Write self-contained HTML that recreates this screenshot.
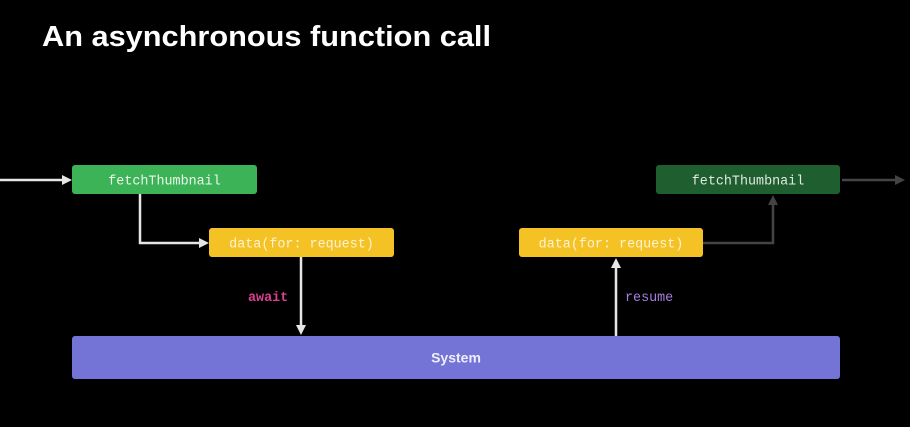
<!DOCTYPE html>
<html><head><meta charset="utf-8"><style>
html,body{margin:0;padding:0;background:#000;width:910px;height:427px;overflow:hidden}
svg{display:block}
.m{font-family:"Liberation Mono",monospace;font-size:13.4px}
</style></head><body>
<svg width="910" height="427" viewBox="0 0 910 427" xmlns="http://www.w3.org/2000/svg">
<rect width="910" height="427" fill="#000"/>
<text x="42" y="46" font-family="Liberation Sans, sans-serif" font-weight="bold" font-size="28.5" fill="#fff" textLength="449" lengthAdjust="spacingAndGlyphs">An asynchronous function call</text>

<!-- left incoming arrow -->
<line x1="0" y1="180" x2="64" y2="180" stroke="#e6e6e6" stroke-width="2.5"/>
<polygon points="72,180 62,175 62,185" fill="#e6e6e6"/>

<!-- green 1 -->
<rect x="72" y="165" width="185" height="29" rx="3" fill="#3cb356"/>
<text x="164.5" y="184.5" text-anchor="middle" class="m" fill="#eaf7ec">fetchThumbnail</text>

<!-- connector green1 -> yellow1 -->
<polyline points="140,194 140,243 201,243" fill="none" stroke="#e6e6e6" stroke-width="2.5"/>
<polygon points="209,243 199,238 199,248" fill="#e6e6e6"/>

<!-- yellow 1 -->
<rect x="209" y="228" width="185" height="29" rx="3" fill="#f4c224"/>
<text x="301.5" y="247.5" text-anchor="middle" class="m" fill="#fdf3d2">data(for: request)</text>

<!-- await -->
<line x1="301" y1="257" x2="301" y2="327" stroke="#e6e6e6" stroke-width="2.5"/>
<polygon points="301,335 296,325 306,325" fill="#e6e6e6"/>
<text x="248" y="301" class="m" font-weight="bold" fill="#d9408f">await</text>

<!-- system -->
<rect x="72" y="336" width="768" height="43" rx="3" fill="#7474d6"/>
<text x="456" y="362.5" text-anchor="middle" font-family="Liberation Sans, sans-serif" font-weight="bold" font-size="14" fill="#eeeefc">System</text>

<!-- resume -->
<line x1="616" y1="336" x2="616" y2="266" stroke="#e6e6e6" stroke-width="2.5"/>
<polygon points="616,258 611,268 621,268" fill="#e6e6e6"/>
<text x="625" y="301" class="m" fill="#a77de0">resume</text>

<!-- yellow 2 -->
<rect x="519" y="228" width="184" height="29" rx="3" fill="#f4c224"/>
<text x="611" y="247.5" text-anchor="middle" class="m" fill="#fdf3d2">data(for: request)</text>

<!-- dark connector -->
<polyline points="703,243 773,243 773,203" fill="none" stroke="#444" stroke-width="2.5"/>
<polygon points="773,195 768,205 778,205" fill="#444"/>

<!-- green 2 -->
<rect x="656" y="165" width="184" height="29" rx="3" fill="#1f5e2f"/>
<text x="748" y="184.5" text-anchor="middle" class="m" fill="#dfe9e1">fetchThumbnail</text>

<!-- right outgoing arrow -->
<line x1="842" y1="180" x2="896" y2="180" stroke="#444" stroke-width="2.5"/>
<polygon points="905,180 895,175 895,185" fill="#444"/>
</svg>
</body></html>
